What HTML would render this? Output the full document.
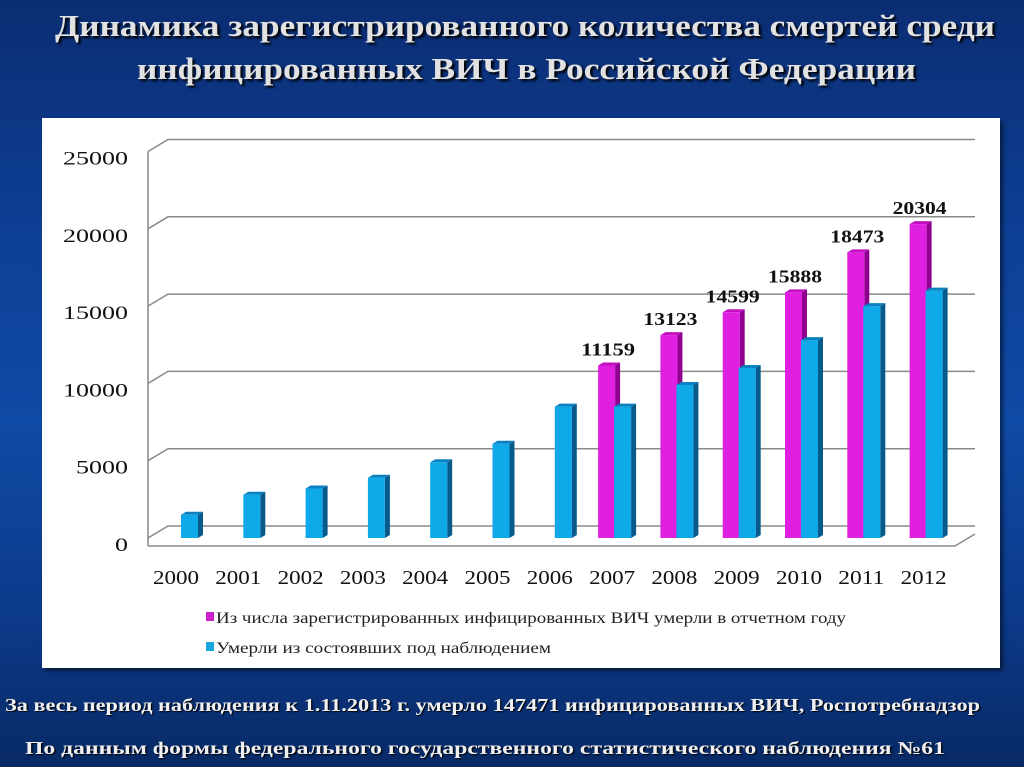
<!DOCTYPE html>
<html><head><meta charset="utf-8">
<style>
html,body{margin:0;padding:0;}
body{width:1024px;height:767px;overflow:hidden;position:relative;
background:linear-gradient(180deg,#0b2d72 0%,#0d3f95 30%,#0f4aa6 55%,#0c3a8a 80%,#082a66 100%);
font-family:"Liberation Serif",serif;}
.panel{position:absolute;left:42px;top:118px;width:958px;height:550px;background:#fff;box-shadow:3px 3px 4px rgba(0,0,0,.5);}
svg{position:absolute;left:0;top:0;}
</style></head>
<body>
<div class="panel"></div>
<svg id="chart" width="1024" height="767" font-family="Liberation Serif, serif">
<g fill="#e2e2e2" font-weight="bold" font-size="31" style="text-shadow:2px 2px 2px #000">
<text x="55" y="36" textLength="940" lengthAdjust="spacingAndGlyphs">Динамика зарегистрированного количества смертей среди</text>
<text x="137" y="79" textLength="779" lengthAdjust="spacingAndGlyphs">инфицированных ВИЧ в Российской Федерации</text>
</g>
<g fill="#f0f0f0" font-weight="bold" font-size="18" style="text-shadow:1px 1px 1px #000">
<text x="5" y="711" textLength="975" lengthAdjust="spacingAndGlyphs">За весь период наблюдения к 1.11.2013 г. умерло  147471 инфицированных ВИЧ, Роспотребнадзор</text>
<text x="25" y="754" textLength="920" lengthAdjust="spacingAndGlyphs">По данным формы федерального государственного статистического наблюдения №61</text>
</g>
</svg>
<script>
const years=["2000","2001","2002","2003","2004","2005","2006","2007","2008","2009","2010","2011","2012"];
const registered=[null,null,null,null,null,null,null,11159,13123,14599,15888,18473,20304];
const observed=[1500,2800,3200,3900,4900,6100,8500,8500,9900,11000,12800,15000,16000];
const yTicks=[0,5000,10000,15000,20000,25000];
const legendLabels=["Из числа зарегистрированных инфицированных ВИЧ умерли в отчетном году","Умерли из состоявших под наблюдением"];

const svg=document.getElementById('chart');
const NS='http://www.w3.org/2000/svg';
function mk(t,a){const e=document.createElementNS(NS,t);for(const k in a)e.setAttribute(k,a[k]);svg.appendChild(e);return e;}
const base=538, k=15.46/1000, dx=20, dy=-12;
function y(v){return base-v*k;}
function xc(i){return 176+i*62.3;}
yTicks.forEach(t=>{
  const yy=y(t);
  const g=mk('polyline',{points:`148,${yy} ${148+dx},${yy+dy} 975,${yy+dy}`,fill:'none',stroke:'#8a8a8a','stroke-width':1.5});
  
  
  const s=String(t);
  const l=mk('text',{x:128,y:y(t)+13,'text-anchor':'end','font-size':19,fill:'#111',textLength:13*s.length,lengthAdjust:'spacingAndGlyphs'});
  l.textContent=s;
  
  
});
mk('line',{x1:148,y1:y(25000),x2:148,y2:base+8,stroke:'#888','stroke-width':1.5});
mk('polyline',{points:`148,${base+8} 955,${base+8} 975,${base-4}`,fill:'none',stroke:'#888','stroke-width':1.5});
function bar(x,v,front,side,top,name){
  const yt=y(v), w=17, d=5;
  const g=document.createElementNS(NS,'g');svg.appendChild(g);
  
  
  const p1=document.createElementNS(NS,'polygon');p1.setAttribute('points',`${x+w},${yt} ${x+w+d},${yt-3} ${x+w+d},${base-3} ${x+w},${base}`);p1.setAttribute('fill',side);g.appendChild(p1);
  const p2=document.createElementNS(NS,'polygon');p2.setAttribute('points',`${x},${yt} ${x+d},${yt-3} ${x+w+d},${yt-3} ${x+w},${yt}`);p2.setAttribute('fill',top);g.appendChild(p2);
  const r=document.createElementNS(NS,'rect');r.setAttribute('x',x);r.setAttribute('y',yt);r.setAttribute('width',w);r.setAttribute('height',base-yt);r.setAttribute('fill',front);g.appendChild(r);
}
years.forEach((yr,i)=>{
  const c=xc(i);
  if(registered[i]!=null){
    bar(c-14,registered[i],'#e020e0','#900090','#c010c0','bar-registered-'+yr);
    const t=mk('text',{x:c-4,y:y(registered[i])-10,'text-anchor':'middle','font-size':18,'font-weight':'bold',fill:'#111',textLength:54,lengthAdjust:'spacingAndGlyphs'});
    t.textContent=registered[i];
    
    
  }
  bar(registered[i]!=null?c+2:c+5,observed[i],'#0fa8e8','#075a8a','#0a80c0','bar-observed-'+yr);
  const l=mk('text',{x:c,y:584,'text-anchor':'middle','font-size':20,fill:'#111',textLength:46,lengthAdjust:'spacingAndGlyphs'});
  l.textContent=yr;
  
  
});
const cols=['#cc22cc','#18a8e0'];
const legLen=[630,335];
legendLabels.forEach((s,i)=>{
  const yy=623+i*30;
  const r=mk('rect',{x:206,y:yy-11,width:8,height:9,fill:cols[i]});
  
  
  const t=mk('text',{x:216,y:yy,'font-size':16,fill:'#222',textLength:legLen[i],lengthAdjust:'spacingAndGlyphs'});
  t.textContent=s;
  
  
});
</script>
</body></html>
